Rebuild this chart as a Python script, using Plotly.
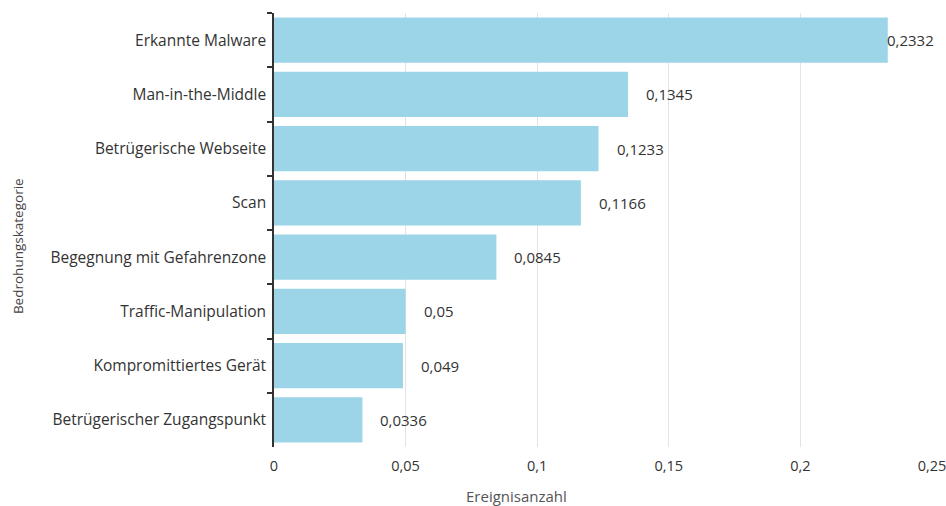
import plotly.graph_objects as go

# Threat categories and their event counts (top to bottom)
categories = [
    "Erkannte Malware",
    "Man-in-the-Middle",
    "Betrügerische Webseite",
    "Scan",
    "Begegnung mit Gefahrenzone",
    "Traffic-Manipulation",
    "Kompromittiertes Gerät",
    "Betrügerischer Zugangspunkt",
]
values = [0.2332, 0.1345, 0.1233, 0.1166, 0.0845, 0.05, 0.049, 0.0336]
value_labels = ["0,2332", "0,1345", "0,1233", "0,1166", "0,0845", "0,05", "0,049", "0,0336"]
tick_values = [0, 0.05, 0.1, 0.15, 0.2, 0.25]
tick_labels = ["0", "0,05", "0,1", "0,15", "0,2", "0,25"]

FONT = "Open Sans, Noto Sans, sans-serif"
TEXT = "#333333"
X_MAX = 0.25

fig = go.Figure(
    go.Bar(
        x=values,
        y=categories,
        orientation="h",
        marker=dict(color="#9dd5e8", line=dict(width=0)),
        hoverinfo="skip",
    )
)

# value labels right of each bar; keep the longest one inside the canvas
for cat, v, lab in zip(categories, values, value_labels):
    shift = 16 if v < 0.2 else -3
    fig.add_annotation(
        x=v, y=cat,
        text=lab, showarrow=False,
        xanchor="left", yanchor="middle", xshift=shift,
        font=dict(family=FONT, size=15, color=TEXT),
    )

# axis titles placed as free text
fig.add_annotation(
    xref="paper", yref="paper", x=-0.389, y=0.463,
    text="Bedrohungskategorie", textangle=-90, showarrow=False,
    xanchor="center", yanchor="middle",
    font=dict(family=FONT, size=13.5, color="#444444"),
)
fig.add_annotation(
    xref="paper", yref="paper", x=0.369, y=-0.112,
    text="Ereignisanzahl", showarrow=False,
    xanchor="center", yanchor="middle",
    font=dict(family=FONT, size=15, color="#555555"),
)

fig.update_layout(
    width=946, height=506,
    margin=dict(l=274, r=14, t=13, b=59),
    paper_bgcolor="white", plot_bgcolor="white",
    separators=",.",
    bargap=0.17,
    showlegend=False,
    font=dict(family=FONT, size=15, color=TEXT),
    xaxis=dict(
        range=[0, X_MAX],
        automargin=False,
        tickvals=tick_values, ticktext=tick_labels,
        showgrid=True, gridcolor="#e3e3e3", gridwidth=1,
        zeroline=False, showline=False,
        ticks="", ticklabelstandoff=8,
        ticklabeloverflow="allow",
        tickfont=dict(family=FONT, size=14.5, color=TEXT),
        fixedrange=True,
    ),
    yaxis=dict(
        autorange="reversed",
        automargin=False,
        showgrid=False, zeroline=False,
        showline=True, linecolor="#333333", linewidth=1.5,
        ticks="outside", ticklen=5, tickcolor="#333333", tickwidth=1.5,
        tickson="boundaries",
        ticklabelstandoff=3,
        tickfont=dict(family=FONT, size=15.5, color=TEXT),
        fixedrange=True,
    ),
)

fig.write_html("out.html")
